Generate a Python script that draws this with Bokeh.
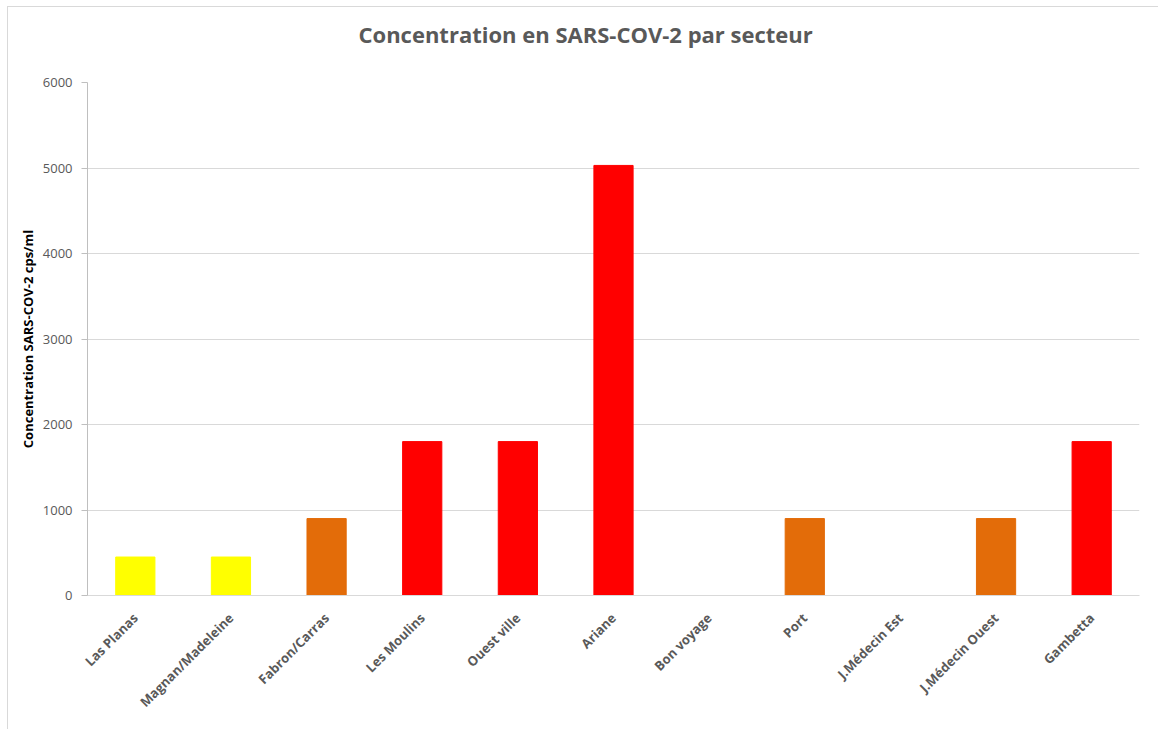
import math
from bokeh.plotting import figure
from bokeh.models import ColumnDataSource, FactorRange, Title
from bokeh.embed import file_html
from bokeh.resources import INLINE

sectors = ["Las Planas", "Magnan/Madeleine", "Fabron/Carras", "Les Moulins", "Ouest ville",
           "Ariane", "Bon voyage", "Port", "J.Médecin Est", "J.Médecin Ouest", "Gambetta"]
values = [450, 450, 900, 1800, 1800, 5030, 0, 900, 0, 900, 1800]
colors = ["#FFFF00", "#FFFF00", "#E36C09", "#FF0000", "#FF0000",
          "#FF0000", "#FF0000", "#E36C09", "#FF0000", "#E36C09", "#FF0000"]
y_ticks = [0, 1000, 2000, 3000, 4000, 5000, 6000]
title_text = "Concentration en SARS-COV-2 par secteur"

src = ColumnDataSource(dict(x=sectors, top=values, color=colors))

FONT = "Open Sans"
p = figure(x_range=FactorRange(*sectors), y_range=(0, 6000),
           width=1151, height=723, output_backend="svg", toolbar_location=None,
           min_border_left=79, min_border_right=20, min_border_top=75, min_border_bottom=135)
p.margin = (6, 0, 0, 7)
p.styles = {"border-top": "1px solid #d9d9d9", "border-left": "1px solid #d9d9d9"}

p.vbar(x="x", top="top", width=0.41, color="color", source=src)

# spacer between the frame and the title, then the title itself
p.add_layout(Title(text=" ", text_font_size="1px", standoff=30), "above")
p.add_layout(Title(text=title_text, align="left", offset=271, standoff=0,
                   vertical_align="middle",
                   text_font=FONT, text_font_size="22px", text_font_style="bold",
                   text_color="#595959"), "above")

p.outline_line_color = None
p.xgrid.grid_line_color = None
p.ygrid.grid_line_color = "#d9d9d9"
p.ygrid.grid_line_width = 1

p.yaxis.ticker = y_ticks
p.yaxis.axis_label = "Concentration SARS-COV-2 cps/ml"
p.yaxis.axis_label_text_font = FONT
p.yaxis.axis_label_text_font_size = "13px"
p.yaxis.axis_label_text_font_style = "bold"
p.yaxis.axis_label_text_color = "#000000"
p.yaxis.axis_label_standoff = 3
p.yaxis.axis_line_color = "#bfbfbf"
p.yaxis.major_tick_line_color = "#bfbfbf"
p.yaxis.major_tick_out = 6
p.yaxis.major_tick_in = 0
p.yaxis.minor_tick_line_color = None
p.yaxis.major_label_text_font = FONT
p.yaxis.major_label_text_font_size = "13px"
p.yaxis.major_label_text_color = "#595959"
p.yaxis.major_label_standoff = 9

p.xaxis.axis_line_color = "#d9d9d9"
p.xaxis.major_tick_line_color = None
p.xaxis.minor_tick_line_color = None
p.xaxis.major_label_orientation = math.pi / 4
p.xaxis.major_label_text_font = FONT
p.xaxis.major_label_text_font_size = "13px"
p.xaxis.major_label_text_font_style = "bold"
p.xaxis.major_label_text_color = "#595959"
p.xaxis.major_label_standoff = 14

p.x_range.range_padding = 0
p.x_range.group_padding = 0

open("out.html", "w").write(file_html(p, INLINE))
